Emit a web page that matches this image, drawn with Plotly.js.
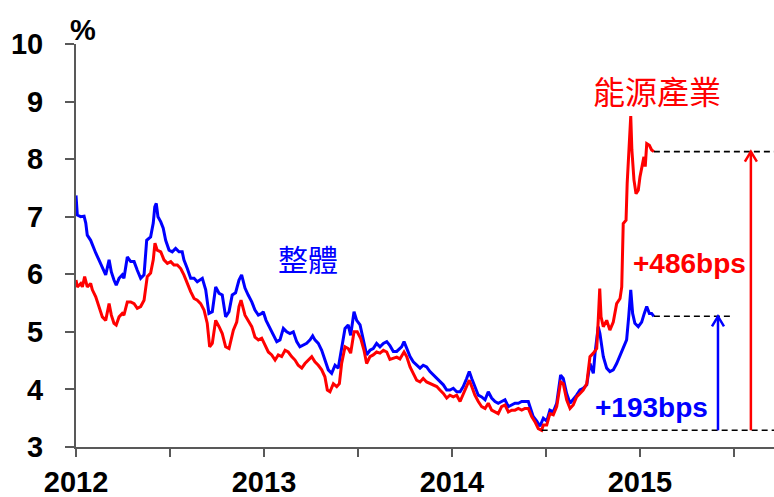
<!DOCTYPE html>
<html><head><meta charset="utf-8">
<script src="https://cdn.plot.ly/plotly-3.0.1.min.js"></script>
<style>html,body{margin:0;padding:0;background:#fff}#chart{width:774px;height:497px}</style>
</head><body><div id="chart"></div>
<script>
// decimal-year dates and yields (%)
const seriesNames = ['整體', '能源產業'];
const blueDates = [2012.000,2012.007,2012.025,2012.043,2012.052,2012.060,2012.078,2012.087,2012.105,2012.122,2012.138,2012.158,2012.176,2012.188,2012.202,2012.214,2012.229,2012.246,2012.255,2012.273,2012.291,2012.309,2012.326,2012.344,2012.362,2012.376,2012.397,2012.411,2012.419,2012.427,2012.436,2012.451,2012.464,2012.477,2012.495,2012.512,2012.530,2012.548,2012.565,2012.574,2012.592,2012.610,2012.628,2012.645,2012.672,2012.690,2012.707,2012.725,2012.743,2012.761,2012.778,2012.796,2012.814,2012.831,2012.849,2012.867,2012.881,2012.899,2012.916,2012.935,2012.952,2012.970,2012.988,2012.996,2013.011,2013.028,2013.046,2013.068,2013.085,2013.103,2013.121,2013.138,2013.156,2013.174,2013.191,2013.209,2013.227,2013.245,2013.259,2013.271,2013.289,2013.307,2013.324,2013.342,2013.360,2013.378,2013.395,2013.413,2013.431,2013.448,2013.461,2013.479,2013.493,2013.511,2013.528,2013.546,2013.564,2013.581,2013.599,2013.617,2013.635,2013.653,2013.670,2013.688,2013.706,2013.732,2013.745,2013.759,2013.777,2013.794,2013.812,2013.830,2013.847,2013.865,2013.883,2013.901,2013.919,2013.936,2013.954,2013.972,2013.989,2014.007,2014.025,2014.043,2014.060,2014.078,2014.092,2014.105,2014.122,2014.140,2014.158,2014.176,2014.193,2014.211,2014.229,2014.246,2014.264,2014.282,2014.300,2014.318,2014.335,2014.353,2014.371,2014.388,2014.406,2014.415,2014.432,2014.451,2014.468,2014.486,2014.504,2014.521,2014.539,2014.557,2014.578,2014.592,2014.610,2014.628,2014.645,2014.663,2014.681,2014.698,2014.717,2014.734,2014.752,2014.761,2014.778,2014.787,2014.805,2014.823,2014.840,2014.858,2014.876,2014.894,2014.911,2014.929,2014.940,2014.951,2014.961,2014.973,2014.991,2015.009,2015.023,2015.036,2015.050,2015.062,2015.074];
const blueVals = [7.37,7.03,7.00,7.01,6.89,6.68,6.59,6.51,6.37,6.25,6.12,5.99,6.25,6.04,5.90,5.81,5.93,5.99,5.93,6.30,6.22,6.22,6.07,5.93,5.99,6.59,6.65,6.89,7.17,7.23,7.00,6.91,6.80,6.59,6.42,6.39,6.45,6.39,6.39,6.25,6.10,5.93,5.93,5.87,5.93,5.73,5.32,5.35,5.78,5.67,5.64,5.26,5.35,5.64,5.68,5.90,5.99,5.76,5.64,5.52,5.38,5.29,5.32,5.35,5.20,5.09,5.00,4.83,4.86,5.06,5.00,4.97,5.00,4.83,4.74,4.77,4.80,4.86,4.93,4.86,4.80,4.68,4.51,4.34,4.28,4.42,4.37,4.74,5.06,5.12,4.94,5.35,5.20,5.12,4.86,4.60,4.68,4.71,4.80,4.74,4.80,4.83,4.76,4.66,4.66,4.74,4.83,4.71,4.57,4.48,4.42,4.37,4.42,4.39,4.31,4.25,4.19,4.13,4.08,3.99,3.99,4.02,3.96,3.96,4.05,4.19,4.31,4.19,4.05,3.90,3.87,3.82,3.96,3.85,3.79,3.76,3.79,3.82,3.70,3.73,3.76,3.76,3.79,3.79,3.79,3.70,3.53,3.45,3.36,3.50,3.45,3.64,3.61,3.76,4.25,4.19,3.93,3.76,3.82,3.90,3.99,4.02,4.08,4.45,4.28,4.63,5.09,4.97,4.57,4.37,4.31,4.34,4.45,4.60,4.71,4.86,5.26,5.73,5.32,5.15,5.09,5.17,5.32,5.44,5.32,5.32,5.27];
const redDates = [2012.000,2012.007,2012.025,2012.034,2012.046,2012.060,2012.078,2012.087,2012.105,2012.122,2012.140,2012.158,2012.176,2012.188,2012.202,2012.214,2012.229,2012.246,2012.255,2012.273,2012.291,2012.309,2012.326,2012.344,2012.362,2012.379,2012.397,2012.411,2012.420,2012.432,2012.451,2012.468,2012.486,2012.504,2012.521,2012.539,2012.557,2012.574,2012.592,2012.610,2012.628,2012.645,2012.663,2012.681,2012.698,2012.711,2012.725,2012.743,2012.761,2012.778,2012.796,2012.814,2012.837,2012.855,2012.867,2012.878,2012.899,2012.916,2012.935,2012.952,2012.970,2012.988,2013.005,2013.023,2013.041,2013.059,2013.076,2013.094,2013.112,2013.129,2013.147,2013.165,2013.182,2013.201,2013.218,2013.236,2013.254,2013.271,2013.289,2013.307,2013.324,2013.337,2013.351,2013.369,2013.387,2013.401,2013.413,2013.431,2013.448,2013.461,2013.479,2013.496,2013.514,2013.532,2013.546,2013.564,2013.581,2013.599,2013.617,2013.635,2013.653,2013.670,2013.688,2013.706,2013.723,2013.745,2013.759,2013.777,2013.794,2013.812,2013.830,2013.847,2013.865,2013.883,2013.901,2013.919,2013.936,2013.954,2013.972,2013.989,2014.007,2014.025,2014.043,2014.060,2014.078,2014.092,2014.105,2014.122,2014.140,2014.158,2014.176,2014.193,2014.211,2014.229,2014.246,2014.264,2014.282,2014.300,2014.318,2014.335,2014.353,2014.371,2014.388,2014.406,2014.424,2014.441,2014.459,2014.477,2014.486,2014.504,2014.521,2014.539,2014.557,2014.578,2014.592,2014.610,2014.628,2014.645,2014.663,2014.681,2014.698,2014.717,2014.734,2014.752,2014.770,2014.778,2014.786,2014.793,2014.805,2014.823,2014.840,2014.858,2014.876,2014.894,2014.903,2014.911,2014.926,2014.932,2014.940,2014.951,2014.957,2014.968,2014.979,2014.991,2015.000,2015.012,2015.021,2015.028,2015.036,2015.050,2015.062,2015.074];
const redVals = [5.90,5.78,5.84,5.78,5.96,5.78,5.84,5.73,5.61,5.44,5.26,5.20,5.49,5.29,5.15,5.12,5.26,5.32,5.29,5.52,5.52,5.49,5.41,5.44,5.55,5.96,6.02,6.25,6.54,6.42,6.39,6.25,6.19,6.22,6.16,6.16,6.10,5.99,5.84,5.70,5.58,5.55,5.49,5.38,5.15,4.74,4.80,5.20,5.09,4.97,4.74,4.71,5.03,5.17,5.44,5.55,5.29,5.20,5.09,4.91,4.86,4.89,4.77,4.65,4.60,4.51,4.60,4.57,4.68,4.65,4.57,4.51,4.42,4.37,4.45,4.51,4.57,4.48,4.42,4.34,4.22,3.99,3.96,4.10,4.05,4.10,4.45,4.74,4.71,4.63,5.00,5.00,4.89,4.68,4.45,4.57,4.60,4.65,4.63,4.68,4.65,4.52,4.54,4.56,4.53,4.65,4.57,4.39,4.28,4.16,4.13,4.19,4.13,4.10,4.08,4.05,3.99,3.93,3.85,3.90,3.87,3.90,3.79,3.93,4.08,4.16,4.05,3.90,3.79,3.70,3.67,3.76,3.64,3.61,3.58,3.70,3.73,3.61,3.64,3.64,3.67,3.64,3.67,3.67,3.53,3.44,3.32,3.29,3.38,3.38,3.58,3.56,3.70,4.13,4.10,3.82,3.67,3.73,3.87,3.93,3.99,4.10,4.57,4.63,4.71,5.20,5.75,5.26,5.09,5.20,5.03,5.17,5.49,5.58,5.78,6.88,6.94,7.58,8.04,8.75,8.16,7.64,7.40,7.46,7.69,7.87,8.04,7.87,8.27,8.24,8.16,8.13];
const yTickVals = [3, 4, 5, 6, 7, 8, 9, 10];
const xTickVals = [2012, 2012.5, 2013, 2013.5, 2014, 2014.5, 2015, 2015.5];
const xTickText = ['2012', '', '2013', '', '2014', '', '2015', ''];
const spreadLabels = ['+193bps', '+486bps'];

const BLUE = '#0000FF', RED = '#FF0000';
const xMin = 2012, xMax = 2015.713;
const blueArrowX = 2015.415, redArrowX = 2015.59, blueDashEnd = 2015.479;

const minIdx = redVals.indexOf(Math.min(...redVals));
const baseY = redVals[minIdx], baseX = redDates[minIdx];
const blueEndY = blueVals[blueVals.length - 1], blueEndX = blueDates[blueDates.length - 1];
const redEndY = redVals[redVals.length - 1], redEndX = redDates[redDates.length - 1];

const traces = [
  {x: blueDates, y: blueVals, name: seriesNames[0], type: 'scatter', mode: 'lines', line: {color: BLUE, width: 3}},
  {x: redDates, y: redVals, name: seriesNames[1], type: 'scatter', mode: 'lines', line: {color: RED, width: 3}}
];

const dash = {color: '#000', width: 1.6, dash: '6px,4px'};
function chevron(x, y, color) {
  return {type: 'path', xref: 'x', yref: 'y', xsizemode: 'pixel', ysizemode: 'pixel',
    xanchor: x, yanchor: y, path: 'M-6,-10 L0,0 L6,-10', line: {color: color, width: 2.5}};
}
const shapes = [
  {type: 'line', xref: 'x', yref: 'y', x0: baseX, x1: xMax, y0: baseY, y1: baseY, line: dash},
  {type: 'line', xref: 'x', yref: 'y', x0: blueEndX, x1: blueDashEnd, y0: blueEndY, y1: blueEndY, line: dash},
  {type: 'line', xref: 'x', yref: 'y', x0: redEndX, x1: xMax, y0: redEndY, y1: redEndY, line: dash},
  {type: 'line', xref: 'x', yref: 'y', x0: blueArrowX, x1: blueArrowX, y0: baseY, y1: blueEndY, line: {color: BLUE, width: 2.5}},
  {type: 'line', xref: 'x', yref: 'y', x0: redArrowX, x1: redArrowX, y0: baseY, y1: redEndY, line: {color: RED, width: 2.5}},
  chevron(blueArrowX, blueEndY, BLUE),
  chevron(redArrowX, redEndY, RED)
];

const cjk = '"Noto Sans CJK TC", "Noto Sans CJK SC", sans-serif';
const latin = '"Liberation Sans", Arial, sans-serif';
const annotations = [
  {xref: 'paper', yref: 'paper', x: 0, y: 1, xanchor: 'left', yanchor: 'bottom', xshift: -8, yshift: -4,
   text: '%', showarrow: false, font: {family: latin, size: 29, weight: 'bold', color: '#000'}},
  {xref: 'x', yref: 'y', x: 2013.234, y: 6.28, text: seriesNames[0], showarrow: false,
   font: {family: cjk, size: 30, color: BLUE}},
  {xref: 'x', yref: 'y', x: 2015.09, y: 9.2, text: seriesNames[1], showarrow: false,
   font: {family: cjk, size: 32, color: RED}},
  {xref: 'x', yref: 'y', x: 2015.266, y: 6.19, text: spreadLabels[1], showarrow: false,
   font: {family: latin, size: 28, weight: 'bold', color: RED}},
  {xref: 'x', yref: 'y', x: 2015.059, y: 3.69, text: spreadLabels[0], showarrow: false,
   font: {family: latin, size: 28, weight: 'bold', color: BLUE}}
];

const axisFont = {family: latin, size: 29, weight: 'bold', color: '#000'};
const layout = {
  width: 774, height: 497,
  margin: {l: 76, r: 0, t: 44, b: 50, pad: 0},
  paper_bgcolor: '#fff', plot_bgcolor: '#fff',
  showlegend: false,
  xaxis: {range: [xMin, xMax], tickmode: 'array', tickvals: xTickVals, ticktext: xTickText,
    showgrid: false, zeroline: false, showline: true, linecolor: '#595959', linewidth: 2,
    ticks: 'outside', ticklen: 8, tickwidth: 2, tickcolor: '#595959', tickfont: axisFont, ticklabelstandoff: 0},
  yaxis: {range: [3, 10], tickmode: 'array', tickvals: yTickVals,
    showgrid: false, zeroline: false, showline: true, linecolor: '#595959', linewidth: 2,
    ticks: 'outside', ticklen: 9, tickwidth: 2, tickcolor: '#595959', tickfont: axisFont, ticklabelstandoff: 16},
  shapes: shapes,
  annotations: annotations
};
Plotly.newPlot('chart', traces, layout, {displayModeBar: false, staticPlot: true});
</script>
</body></html>
